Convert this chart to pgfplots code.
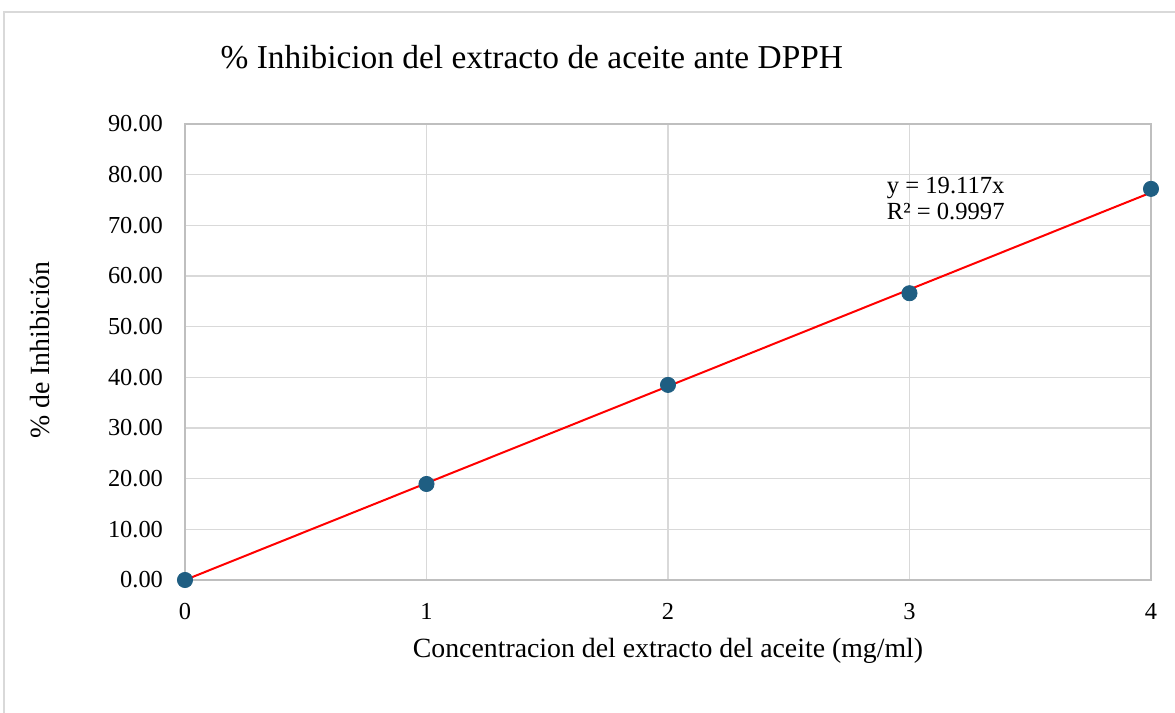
\documentclass[border=0pt]{standalone}
\usepackage{fontspec}
\setmainfont{Liberation Serif}
\usepackage{pgfplots}
\pgfplotsset{compat=1.18}
\definecolor{markblue}{RGB}{31,94,130}
\definecolor{gridgray}{RGB}{217,217,217}
\definecolor{axisgray}{RGB}{191,191,191}
\begin{document}
\begin{tikzpicture}
\begin{axis}[
  at={(0,0)}, anchor=south west,
  scale only axis, width=483pt, height=228pt,
  xmin=0, xmax=4, ymin=0, ymax=90,
  xtick={0,1,2,3,4},
  ytick={0,10,...,90},
  grid=major,
  grid style={draw=gridgray, line width=0.8pt},
  axis line style={draw=axisgray, line width=0.8pt},
  major tick length=0pt,
  /pgf/number format/assume math mode=true,
  yticklabel={\pgfmathprintnumber[fixed,fixed zerofill,precision=2]{\tick}},
  xticklabel={\pgfmathprintnumber{\tick}},
  tick label style={font=\fontsize{12.2}{14}\selectfont, text=black},
  yticklabel style={xshift=-7.5pt},
  xticklabel style={yshift=-8pt},
  title={\% Inhibicion del extracto de aceite ante DPPH},
  title style={at={(axis description cs:0.359,1.121)}, anchor=center, yshift=0pt, font=\fontsize{16.7}{20}\selectfont},
  xlabel={Concentracion del extracto del aceite (mg/ml)},
  xlabel style={at={(axis description cs:0.5,-0.156)}, anchor=center, font=\fontsize{13.9}{16}\selectfont},
  ylabel={\% de Inhibición},
  ylabel style={at={(axis description cs:-0.150,0.504)}, anchor=center, rotate=0, font=\fontsize{13.9}{16}\selectfont},
  clip=false,
]
\addplot[only marks, mark=*, mark size=3.8pt, mark options={fill=markblue, draw=markblue}]
  coordinates {(0,0) (1,18.95) (2,38.5) (3,56.6) (4,77.2)};
\addplot[red, line width=1pt] coordinates {(0,0) (4,76.468)};
\node[anchor=north west, align=left, inner sep=0pt, font=\fontsize{12.3}{13}\selectfont]
  at (axis cs:2.905,79.6) {y = 19.117x\\R² = 0.9997};
\end{axis}
\path[use as bounding box] (-92.5pt,-66.5pt) rectangle (495pt,290pt);
\draw[draw=gridgray, line width=0.8pt] (-90.5pt,-66.5pt) -- (-90.5pt,284pt) -- (495pt,284pt);
\end{tikzpicture}
\end{document}
